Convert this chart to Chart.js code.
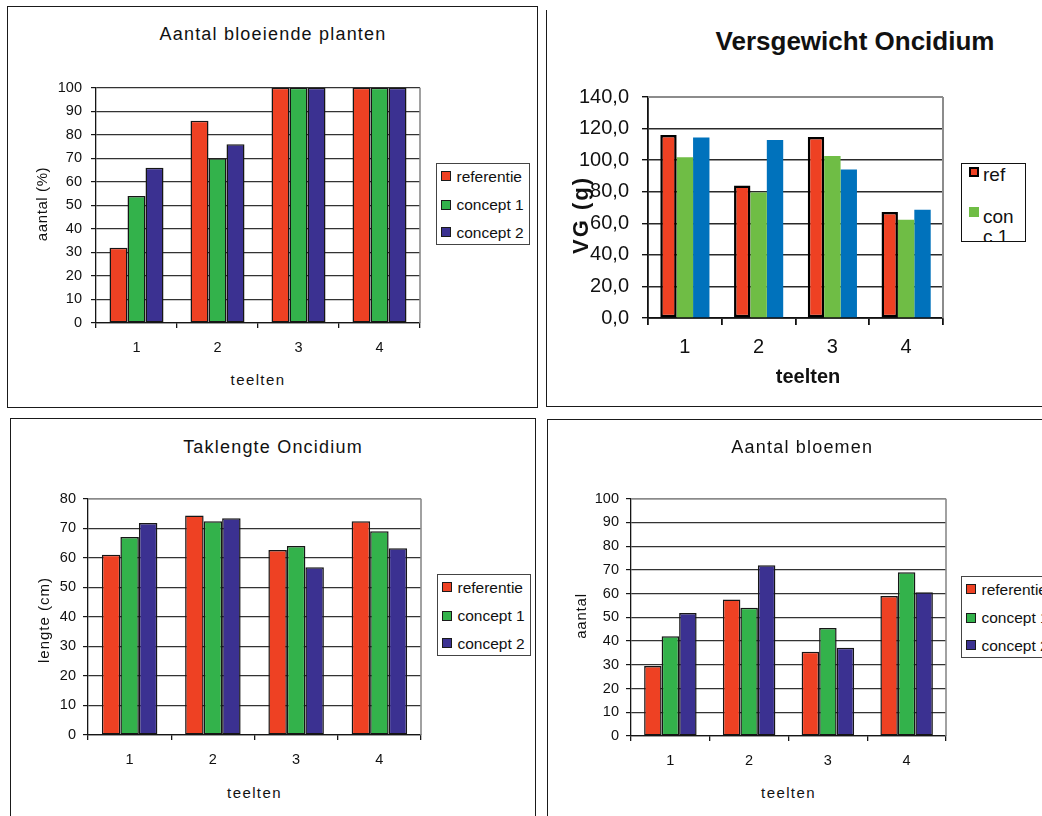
<!DOCTYPE html>
<html lang="nl">
<head>
<meta charset="utf-8">
<title>Oncidium teelten</title>
<script src="https://cdn.jsdelivr.net/npm/chart.js@4.4.1/dist/chart.umd.min.js"></script>
<style>
  html, body { margin:0; padding:0; width:1042px; height:816px; overflow:hidden; background:#fff; }
  body { position:relative; font-family:"Liberation Sans", Arial, Helvetica, sans-serif; color:#111; }
  .frame { position:absolute; box-sizing:border-box; border:1px solid #1a1a1a; }
  .line { position:absolute; background:#1a1a1a; }
  canvas { position:absolute; }
  .t { position:absolute; white-space:nowrap; line-height:1; transform:translate(-50%,-50%); }
  .t.rot { transform:translate(-50%,-50%) rotate(-90deg); }
  .h { font-size:18px; letter-spacing:1.2px; }
  .ax { font-size:15px; letter-spacing:1.4px; }
  .legend { position:absolute; box-sizing:border-box; border:1px solid #444; background:#fff; overflow:hidden; }
  .legend .sw { position:absolute; box-sizing:border-box; }
  .legend .lb { position:absolute; white-space:nowrap; }
</style>
</head>
<body>
<!-- panel frames -->
<div class="frame" style="left:7px;top:6px;width:531px;height:402px"></div>
<div class="line" style="left:546px;top:10px;width:1px;height:397px"></div>
<div class="line" style="left:546px;top:406px;width:496px;height:1px"></div>
<div class="frame" style="left:10px;top:418px;width:526px;height:420px"></div>
<div class="frame" style="left:547px;top:419px;width:520px;height:420px"></div>

<canvas id="cBloei"></canvas>
<canvas id="cVG"></canvas>
<canvas id="cTak"></canvas>
<canvas id="cBloem"></canvas>

<!-- Aantal bloeiende planten -->
<div class="t h" style="left:273px;top:33.8px">Aantal bloeiende planten</div>
<div class="t ax" style="left:258px;top:378.8px">teelten</div>
<div class="t ax rot" style="left:41px;top:204px;letter-spacing:0.6px">aantal (%)</div>

<!-- Versgewicht Oncidium -->
<div class="t" style="left:855px;top:41px;font-size:26px;font-weight:bold">Versgewicht Oncidium</div>
<div class="t" style="left:808px;top:375.5px;font-size:20px;font-weight:bold">teelten</div>
<div class="t rot" style="left:580.5px;top:215px;font-size:22px;font-weight:bold;letter-spacing:2px">VG (g)</div>

<!-- Taklengte Oncidium -->
<div class="t h" style="left:273px;top:446.5px">Taklengte Oncidium</div>
<div class="t ax" style="left:254.5px;top:791.8px">teelten</div>
<div class="t ax rot" style="left:42.5px;top:619.5px;letter-spacing:1px">lengte (cm)</div>

<!-- Aantal bloemen -->
<div class="t h" style="left:802.3px;top:446.5px">Aantal bloemen</div>
<div class="t ax" style="left:788.5px;top:792px">teelten</div>
<div class="t ax rot" style="left:580px;top:616.3px;letter-spacing:0.8px">aantal</div>

<script>
const FONT = '"Liberation Sans", Arial, Helvetica, sans-serif';
Chart.defaults.font.family = FONT;
Chart.defaults.color = '#111';

// categories and series names
const teelten = ['1', '2', '3', '4'];
const reeksen = ['referentie', 'concept 1', 'concept 2'];
const vgReeksen = ['ref', 'conc 1', 'conc 2'];

// Aantal bloeiende planten (%)
const bloeiRef = [32, 86, 100, 100];
const bloeiC1  = [54, 70, 100, 100];
const bloeiC2  = [66, 76, 100, 100];
const bloeiTicks = [0, 10, 20, 30, 40, 50, 60, 70, 80, 90, 100];

// Versgewicht Oncidium (g)
const vgRef = [116, 84, 114.7, 67.2];
const vgC1  = [101.8, 79.5, 102.6, 62.2];
const vgC2  = [114.3, 112.7, 94, 68.6];
const vgTicks = [0, 20, 40, 60, 80, 100, 120, 140];

// Taklengte Oncidium (cm)
const takRef = [61, 74.3, 62.6, 72.4];
const takC1  = [67, 72.4, 64, 69];
const takC2  = [71.8, 73.4, 56.8, 63.2];
const takTicks = [0, 10, 20, 30, 40, 50, 60, 70, 80];

// Aantal bloemen
const bloemRef = [29.5, 57.5, 35.5, 59];
const bloemC1  = [42, 54, 45.5, 69];
const bloemC2  = [51.8, 72, 37.2, 60.6];
const bloemTicks = [0, 10, 20, 30, 40, 50, 60, 70, 80, 90, 100];

const kleurenStd = ['#ee4123', '#33b24b', '#3b3191'];
const kleurenVG  = ['#ee4123', '#6fbd45', '#0072bc'];

// grey right (and optional top) edge of the plot area
const plotRand = {
  id: 'plotRand',
  beforeDatasetsDraw(chart, args, o) {
    const { ctx, chartArea: a } = chart;
    ctx.save();
    ctx.strokeStyle = o.color;
    ctx.lineWidth = o.width;
    ctx.beginPath();
    if (o.top) { ctx.moveTo(a.left, a.top); ctx.lineTo(a.right, a.top); }
    ctx.moveTo(a.right, a.top); ctx.lineTo(a.right, a.bottom);
    ctx.stroke();
    ctx.restore();
  }
};

function reeks(label, data, color, bColor, bWidth) {
  return {
    label, data,
    backgroundColor: color,
    borderColor: bColor,
    borderWidth: bWidth,
    borderSkipped: false,
    categoryPercentage: 2 / 3,
    barPercentage: 1
  };
}

function staafgrafiek(id, g, datasets, yTicks, o) {
  const cv = document.getElementById(id);
  const padTop = 14, padRight = 8;
  cv.width = g.R - g.L + o.yw + padRight;
  cv.height = g.B - g.T + padTop + o.xh;
  cv.style.left = (g.L - o.yw) + 'px';
  cv.style.top = (g.T - padTop) + 'px';
  const tickFont = { family: FONT, size: o.fs };
  return new Chart(cv, {
    type: 'bar',
    data: { labels: teelten, datasets },
    options: {
      responsive: false,
      animation: false,
      devicePixelRatio: 1,
      layout: { padding: { left: 0, top: padTop, right: padRight, bottom: 0 }, autoPadding: false },
      plugins: {
        legend: { display: false },
        title: { display: false },
        tooltip: { enabled: false },
        plotRand: o.frame
      },
      scales: {
        x: {
          offset: true,
          grid: { offset: true, drawOnChartArea: false, drawTicks: true, tickLength: o.xtl, color: o.axis, lineWidth: o.aw },
          border: { display: true, color: o.axis, width: o.aw },
          ticks: { font: tickFont, color: '#111', padding: o.xpad, maxRotation: 0, autoSkip: false },
          afterFit(s) { s.height = o.xh; }
        },
        y: {
          min: yTicks[0],
          max: yTicks[yTicks.length - 1],
          afterBuildTicks(s) { s.ticks = yTicks.map(v => ({ value: v })); },
          grid: { color: o.grid, lineWidth: o.gw, drawTicks: true, tickLength: o.ytl, tickColor: o.axis },
          border: { display: true, color: o.axis, width: o.aw },
          ticks: { font: tickFont, color: '#111', padding: o.ypad, callback: o.fmt || (v => String(v)) },
          afterFit(s) { s.width = o.yw; }
        }
      }
    },
    plugins: [plotRand]
  });
}

function stdSets(ref, c1, c2) {
  return [ref, c1, c2].map((d, i) => reeks(reeksen[i], d, kleurenStd[i], '#161616', 1.5));
}

const stdOpts = {
  yw: 70, xh: 40, fs: 14.5, ytl: 5, xtl: 5, ypad: 7, xpad: 11.5,
  axis: '#161616', grid: '#333333', gw: 1.2, aw: 1.3,
  frame: { color: '#8a8a8a', width: 1.6, top: true }
};

staafgrafiek('cBloei', { L: 96, R: 420, T: 84, B: 323 },
  stdSets(bloeiRef, bloeiC1, bloeiC2), bloeiTicks,
  Object.assign({}, stdOpts, { yw: 76, ypad: 9, xpad: 11, frame: { color: '#8a8a8a', width: 1.6, top: false } }));

staafgrafiek('cVG', { L: 648, R: 943, T: 86, B: 318 },
  [reeks(vgReeksen[0], vgRef, kleurenVG[0], '#000', 2.5),
   reeks(vgReeksen[1], vgC1, kleurenVG[1], kleurenVG[1], 0),
   reeks(vgReeksen[2], vgC2, kleurenVG[2], kleurenVG[2], 0)],
  vgTicks,
  { yw: 85, xh: 50, fs: 20, ytl: 6, xtl: 7, ypad: 13, xpad: 10,
    axis: '#111', grid: '#2a2a2a', gw: 1.4, aw: 1.8,
    frame: { color: '#8c8c8c', width: 2, top: true },
    fmt: v => v.toFixed(1).replace('.', ',') });

staafgrafiek('cTak', { L: 88, R: 421, T: 497, B: 735 },
  stdSets(takRef, takC1, takC2), takTicks, stdOpts);

staafgrafiek('cBloem', { L: 631, R: 946, T: 497, B: 736 },
  stdSets(bloemRef, bloemC1, bloemC2), bloemTicks, stdOpts);

// boxed legends on the right of each chart
function legenda(box, rows) {
  const el = document.createElement('div');
  el.className = 'legend';
  Object.assign(el.style, {
    left: box.x + 'px', top: box.y + 'px', width: box.w + 'px', height: box.h + 'px',
    borderColor: box.bc || '#444'
  });
  rows.forEach(r => {
    const sw = document.createElement('div');
    sw.className = 'sw';
    Object.assign(sw.style, {
      left: r.sx + 'px', top: r.sy + 'px', width: r.ss + 'px', height: r.ss + 'px',
      background: r.color, border: r.border || 'none'
    });
    const lb = document.createElement('div');
    lb.className = 'lb';
    Object.assign(lb.style, {
      left: r.tx + 'px', top: r.ty + 'px', fontSize: r.fs + 'px', lineHeight: r.lh + 'px',
      width: r.tw ? r.tw + 'px' : 'auto', whiteSpace: r.tw ? 'normal' : 'nowrap',
      wordBreak: r.tw ? 'break-all' : 'normal'
    });
    lb.textContent = r.name;
    el.appendChild(sw);
    el.appendChild(lb);
  });
  document.body.appendChild(el);
}

function stdLegenda(x, y) {
  const rowY = [12.3, 40.8, 68.3];
  legenda({ x, y, w: 94, h: 82 }, reeksen.map((n, i) => ({
    name: n, color: kleurenStd[i], border: '1px solid #1a1a1a',
    sx: 4, sy: rowY[i] - 5, ss: 10,
    tx: 19.5, ty: rowY[i] - 8.5, fs: 15.5, lh: 18
  })));
}

stdLegenda(436, 163);
stdLegenda(437, 574);
stdLegenda(961, 576);

legenda({ x: 961, y: 163, w: 65, h: 79, bc: '#111' }, [
  { name: vgReeksen[0], color: kleurenVG[0], border: '2px solid #000',
    sx: 7, sy: 3, ss: 10, tx: 21, ty: 1, fs: 19, lh: 20 },
  { name: vgReeksen[1], color: kleurenVG[1],
    sx: 7, sy: 43, ss: 9.5, tx: 21, ty: 42.7, fs: 19, lh: 20, tw: 36 }
]);
</script>
</body>
</html>
